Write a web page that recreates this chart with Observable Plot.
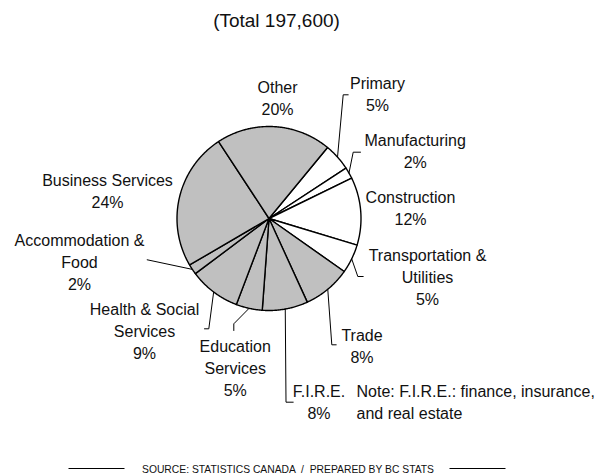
<!DOCTYPE html>
<html><head><meta charset="utf-8">
<script src="https://cdn.jsdelivr.net/npm/d3@7"></script>
<script src="https://cdn.jsdelivr.net/npm/@observablehq/plot@0.6"></script>
<style>body{margin:0;background:#fff;} svg{display:block}</style>
</head><body><div id="chart"></div>
<script>
// ---------- data ----------
const title = "(Total 197,600)";
const categories = ["Primary","Manufacturing","Construction","Transportation & Utilities","Trade","F.I.R.E.","Education Services","Health & Social Services","Accommodation & Food","Business Services","Other"];
const shares = [4.8, 2.0, 11.9, 5.1, 8.4, 8.0, 4.6, 9.0, 1.8, 24.2, 20.2];
const shareLabels = ["5%","2%","12%","5%","8%","8%","5%","9%","2%","24%","20%"];
const labelText = ["Primary","Manufacturing","Construction","Transportation &\nUtilities","Trade","F.I.R.E.","Education\nServices","Health & Social\nServices","Accommodation &\nFood","Business Services","Other"];
const note = "Note: F.I.R.E.: finance, insurance,\nand real estate";
const source = "SOURCE: STATISTICS CANADA  /  PREPARED BY BC STATS";

// ---------- layout & style ----------
const pie = {cx: 268.5, cy: 218, r: 92, start: 39.5};
const shaded = new Set(["Trade","F.I.R.E.","Education Services","Health & Social Services","Accommodation & Food","Business Services","Other"]);
const labelPos = {
  "Primary": [377, 92],
  "Manufacturing": [414.7, 149.5],
  "Construction": [410, 206],
  "Transportation & Utilities": [427, 275],
  "Trade": [361.5, 344],
  "F.I.R.E.": [318.5, 400.5],
  "Education Services": [234.7, 366.7],
  "Health & Social Services": [144, 329.2],
  "Accommodation & Food": [79, 260.3],
  "Business Services": [107, 189],
  "Other": [277, 96.5]
};
const leaderBends = {
  "Primary": [[342.7,94.3],[347.7,94.3]],
  "Manufacturing": [[352.7,151.7],[360,151.7]],
  "Transportation & Utilities": [[357.3,276],[362.7,276]],
  "Trade": [[331.3,344.3],[335.7,344.3]],
  "F.I.R.E.": [[285.5,401.7],[292.7,401.7]],
  "Education Services": [[233.3,323.3],[233.3,330]],
  "Health & Social Services": [[208.3,328.3],[204,328.3]],
  "Accommodation & Food": [[146.7,259.3]]
};
const fontSize = 16;
const lineGap = 22;
const font = "'Liberation Sans', Arial, Helvetica, sans-serif";

// ---------- derived geometry ----------
const total = d3.sum(shares);
const rad = d => d * Math.PI / 180;
const px = a => pie.cx + pie.r * Math.sin(rad(a));
const py = a => pie.cy - pie.r * Math.cos(rad(a));
let cum = 0;
const slices = categories.map((name, i) => {
  const a0 = pie.start + cum / total * 360;
  cum += shares[i];
  const a1 = pie.start + cum / total * 360;
  return {name, a0, a1, mid: (a0 + a1) / 2, fill: shaded.has(name) ? "#c0c0c0" : "#ffffff"};
});
const polys = [];
for (const s of slices) {
  polys.push({name: s.name, fill: s.fill, x: pie.cx, y: pie.cy});
  const n = Math.max(2, Math.ceil((s.a1 - s.a0) / 0.5));
  for (let k = 0; k <= n; k++) {
    const a = s.a0 + (s.a1 - s.a0) * k / n;
    polys.push({name: s.name, fill: s.fill, x: px(a), y: py(a)});
  }
  polys.push({name: s.name, fill: s.fill, x: pie.cx, y: pie.cy});
}
const leaders = [];
for (const s of slices) {
  const b = leaderBends[s.name];
  if (!b) continue;
  leaders.push({name: s.name, x: px(s.mid), y: py(s.mid)});
  for (const [x, y] of b) leaders.push({name: s.name, x, y});
}
const labels = slices.map((s, i) => ({
  text: labelText[i] + "\n" + shareLabels[i],
  x: labelPos[s.name][0], y: labelPos[s.name][1]
}));
const footerRules = [{x1: 68, x2: 124, y: 468}, {x1: 449, x2: 505, y: 468}];

const chart = Plot.plot({
  width: 600, height: 475,
  margin: 0,
  x: {domain: [0, 600], range: [0, 600], axis: null},
  y: {domain: [0, 475], range: [0, 475], axis: null},
  color: {type: "identity"},
  style: {fontFamily: font, background: "#fff"},
  marks: [
    Plot.line(polys, {x: "x", y: "y", z: "name", fill: "fill", stroke: "#000", strokeWidth: 1.4, strokeLinejoin: "round"}),
    Plot.line(leaders, {x: "x", y: "y", z: "name", stroke: "#000", strokeWidth: 1}),
    Plot.text(labels, {x: "x", y: "y", text: "text", fontSize, lineHeight: lineGap / fontSize, lineAnchor: "middle", textAnchor: "middle", fill: "#111"}),
    Plot.text([note], {x: 356, y: 400.5, text: d => d, fontSize, lineHeight: lineGap / fontSize, lineAnchor: "middle", textAnchor: "start", fill: "#111"}),
    Plot.text([title], {x: 276, y: 20, text: d => d, fontSize: 19, fill: "#111"}),
    Plot.link(footerRules, {x1: "x1", x2: "x2", y1: "y", y2: "y", stroke: "#000", strokeWidth: 1}),
    Plot.text([source], {x: 287.5, y: 468.5, text: d => d, fontSize: 11.5, fill: "#111"})
  ]
});
document.getElementById("chart").append(chart);
d3.select(chart).selectAll("text").filter(function() { return this.textContent === source; })
  .attr("textLength", 292).attr("lengthAdjust", "spacingAndGlyphs");
</script>
</body></html>
